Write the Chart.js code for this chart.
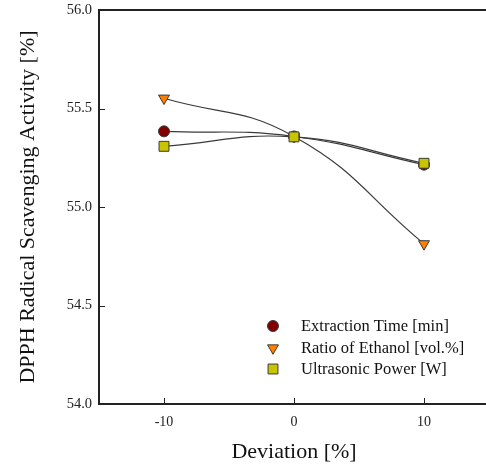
<!DOCTYPE html>
<html>
<head>
<meta charset="utf-8">
<script src="https://cdn.jsdelivr.net/npm/chart.js@4.4.1/dist/chart.umd.min.js"></script>
<style>
  html, body { margin: 0; padding: 0; background: #fff; overflow: hidden; }
  canvas { display: block; }
</style>
</head>
<body>
<canvas id="chart" width="497" height="467"></canvas>
<script>
// Desviación de cada factor respecto al óptimo
const deviations = [-10, 0, 10];

const extractionTime = [55.384, 55.358, 55.215];
const ethanolRatio = [55.552, 55.358, 54.813];
const ultrasonicPower = [55.308, 55.356, 55.222];

const seriesLabels = ['Extraction Time [min]', 'Ratio of Ethanol [vol.%]', 'Ultrasonic Power [W]'];

const xTicks = [-10, 0, 10];
const yTicks = [54.0, 54.5, 55.0, 55.5, 56.0];

const serif = "'Liberation Serif', 'Times New Roman', serif";
const ink = '#222';

function toPoints(values) {
    return deviations.map((d, i) => ({ x: d, y: values[i] }));
}

function makeDataset(label, values, style, fill, radius, rotation, order) {
    return {
        label: label,
        data: toPoints(values),
        borderColor: '#3a3a3a',
        borderWidth: 1.2,
        tension: 0.45,
        pointStyle: style,
        pointRadius: radius,
        pointRotation: rotation,
        pointBackgroundColor: fill,
        pointBorderColor: '#3a3a3a',
        pointBorderWidth: 1,
        order: order
    };
}

// Sin márgenes extra alrededor del área del gráfico
function noPadding(s) {
    s.paddingLeft = 0;
    s.paddingRight = 0;
    s.paddingTop = 0;
    s.paddingBottom = 0;
}

// Marcas interiores en los ejes
const inwardTicks = {
    id: 'inwardTicks',
    afterDraw(chart) {
        const { ctx, chartArea, scales } = chart;
        ctx.save();
        ctx.strokeStyle = ink;
        ctx.lineWidth = 1;
        xTicks.forEach(v => {
            const px = Math.round(scales.x.getPixelForValue(v)) + 0.5;
            ctx.beginPath();
            ctx.moveTo(px, chartArea.bottom);
            ctx.lineTo(px, chartArea.bottom - 6);
            ctx.stroke();
        });
        yTicks.forEach(v => {
            const py = Math.round(scales.y.getPixelForValue(v)) + 0.5;
            ctx.beginPath();
            ctx.moveTo(chartArea.left, py);
            ctx.lineTo(chartArea.left + 6, py);
            ctx.stroke();
        });
        ctx.restore();
    }
};

// Leyenda dentro del área del gráfico, abajo a la derecha
const innerLegend = {
    id: 'innerLegend',
    afterDraw(chart) {
        const { ctx } = chart;
        const markX = 273, textX = 301, rowY = [326, 348, 369];
        ctx.save();
        ctx.font = '16.5px ' + serif;
        ctx.textBaseline = 'middle';
        chart.data.datasets.forEach((ds, i) => {
            ctx.fillStyle = ds.pointBackgroundColor;
            ctx.strokeStyle = ds.pointBorderColor;
            ctx.lineWidth = 1;
            Chart.helpers.drawPoint(ctx, {
                pointStyle: ds.pointStyle,
                radius: ds.pointRadius,
                rotation: ds.pointRotation,
                borderWidth: 1
            }, markX, rowY[i]);
            ctx.fillStyle = '#111';
            ctx.fillText(ds.label, textX, rowY[i] + 1);
        });
        ctx.restore();
    }
};

new Chart(document.getElementById('chart'), {
    type: 'line',
    data: {
        datasets: [
            makeDataset(seriesLabels[0], extractionTime, 'circle', '#820000', 5.5, 0, 3),
            makeDataset(seriesLabels[1], ethanolRatio, 'triangle', '#ff7f00', 6.3, 180, 2),
            makeDataset(seriesLabels[2], ultrasonicPower, 'rect', '#c8c400', 7, 0, 1)
        ]
    },
    options: {
        responsive: false,
        animation: false,
        layout: { padding: 0 },
        plugins: { legend: { display: false }, tooltip: { enabled: false } },
        scales: {
            x: {
                type: 'linear',
                min: -15,
                max: 15,
                afterBuildTicks: s => { s.ticks = xTicks.map(v => ({ value: v })); },
                afterFit: s => { s.height = 63; noPadding(s); },
                grid: { display: false, drawTicks: false },
                border: { color: ink, width: 2 },
                ticks: { color: '#222', font: { family: serif, size: 14 }, padding: 10 },
                title: {
                    display: true,
                    text: 'Deviation [%]',
                    color: '#111',
                    font: { family: serif, size: 22 },
                    padding: { top: 4, bottom: 2 }
                }
            },
            x2: {
                type: 'linear',
                position: 'top',
                min: -15,
                max: 15,
                afterBuildTicks: s => { s.ticks = []; },
                afterFit: s => { s.height = 10; noPadding(s); },
                grid: { display: false, drawTicks: false },
                border: { color: ink, width: 2 },
                ticks: { display: false }
            },
            y: {
                min: 54,
                max: 56,
                afterBuildTicks: s => { s.ticks = yTicks.map(v => ({ value: v })); },
                afterFit: s => { s.width = 99; noPadding(s); },
                grid: { display: false, drawTicks: false },
                border: { color: ink, width: 2 },
                ticks: {
                    color: '#222',
                    font: { family: serif, size: 14.5 },
                    padding: 7,
                    callback: v => Number(v).toFixed(1)
                },
                title: {
                    display: true,
                    text: 'DPPH Radical Scavenging Activity [%]',
                    color: '#111',
                    font: { family: serif, size: 22 },
                    padding: { top: 15, bottom: 0 }
                }
            }
        }
    },
    plugins: [inwardTicks, innerLegend]
});
</script>
</body>
</html>
